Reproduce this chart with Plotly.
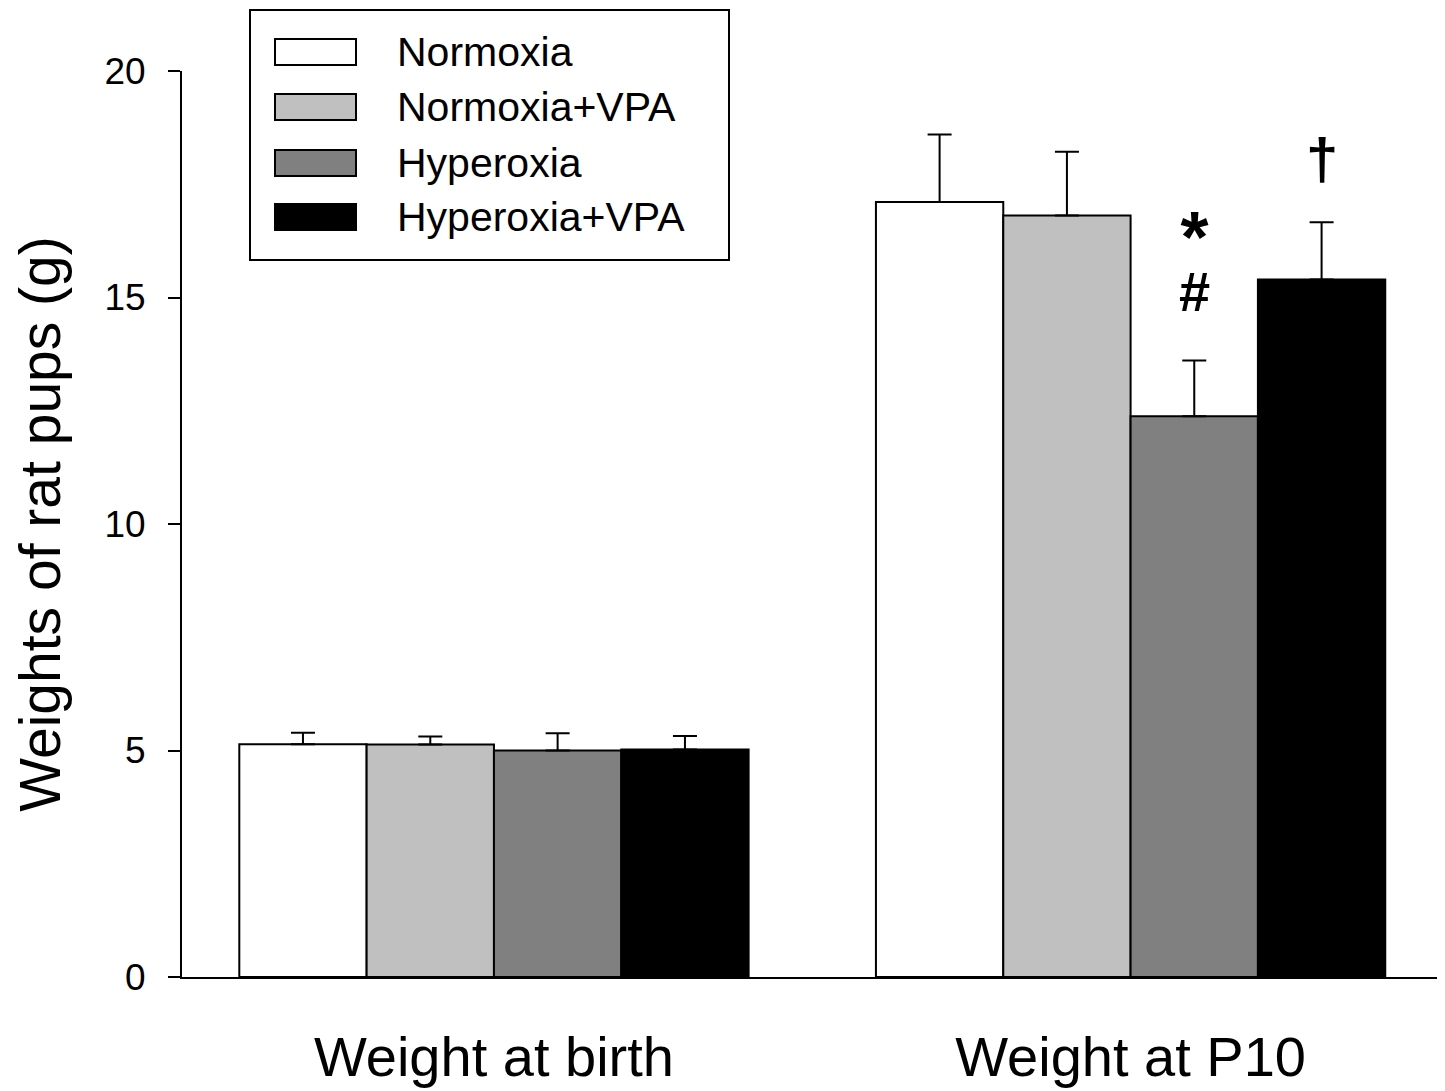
import plotly.graph_objects as go

categories = ["Weight at birth", "Weight at P10"]
series_names = ["Normoxia", "Normoxia+VPA", "Hyperoxia", "Hyperoxia+VPA"]
series_colors = ["#ffffff", "#c0c0c0", "#808080", "#000000"]
means = {
    "Normoxia": [5.14, 17.11],
    "Normoxia+VPA": [5.13, 16.81],
    "Hyperoxia": [5.00, 12.38],
    "Hyperoxia+VPA": [5.02, 15.40],
}
errors = {
    "Normoxia": [0.25, 1.49],
    "Normoxia+VPA": [0.18, 1.41],
    "Hyperoxia": [0.38, 1.23],
    "Hyperoxia+VPA": [0.30, 1.26],
}
y_ticks = [0, 5, 10, 15, 20]
# significance marks: (category index, bar offset, y value, text)
sig_marks = [
    (1, 0.1, 15.82, "<span style='font-size:72px'><b>*</b></span><br><span style='font-size:56px'><b>#</b></span>"),
    (1, 0.3, 18.07, "<span style='font-size:58px'><b>†</b></span>"),
]

# page has an 8px body margin; compensate so the plot lands where the reference has it
OFF = 8
W, H = 1445 - OFF, 1091 - OFF
L, R, T, B = 182 - OFF, 5, 71 - OFF, 114
pw, ph = W - L - R, H - T - B

def px(x):
    return (x - OFF - L) / pw

def py(y):
    return (H - B - (y - OFF)) / ph

FONT = "Liberation Sans, Arial, sans-serif"

fig = go.Figure()
for name, col in zip(series_names, series_colors):
    fig.add_trace(go.Bar(
        x=categories, y=means[name], name=name,
        marker=dict(color=col, line=dict(color="black", width=2)),
        error_y=dict(type="data", array=errors[name], arrayminus=[0] * len(categories),
                     symmetric=False, color="black", thickness=2, width=12),
        showlegend=False,
    ))

annotations = []
for ci, off, yv, txt in sig_marks:
    annotations.append(dict(x=ci + off, y=yv, xref="x", yref="y", text=txt,
                            showarrow=False, font=dict(family=FONT, size=38, color="black")))

# custom legend box
shapes = [dict(type="rect", xref="paper", yref="paper", x0=px(250), x1=px(729), y0=py(260), y1=py(10),
               line=dict(color="black", width=2), fillcolor="white", layer="above")]
row_y = [52, 107, 163, 217]
for name, col, ry in zip(series_names, series_colors, row_y):
    shapes.append(dict(type="rect", xref="paper", yref="paper", x0=px(275), x1=px(356),
                       y0=py(ry + 13), y1=py(ry - 13), line=dict(color="black", width=2),
                       fillcolor=col, layer="above"))
    annotations.append(dict(x=px(395), y=py(ry), xref="paper", yref="paper", text=name,
                            showarrow=False, xanchor="left", yanchor="middle",
                            font=dict(family=FONT, size=41, color="black")))

fig.update_layout(
    width=W, height=H,
    margin=dict(l=L, r=R, t=T, b=B, pad=0, autoexpand=False),
    paper_bgcolor="white", plot_bgcolor="white",
    barmode="group", bargap=0.2, bargroupgap=0,
    font=dict(family=FONT, color="black"),
    shapes=shapes, annotations=annotations,
    xaxis=dict(range=[-0.49, 1.486], showline=True, linecolor="black", linewidth=2,
               ticks="", showgrid=False, zeroline=False, automargin=False,
               tickfont=dict(family=FONT, size=56, color="black"), ticklabelstandoff=30),
    yaxis=dict(range=[0, 20], tickvals=y_ticks, showline=True, linecolor="black", linewidth=2,
               ticks="outside", ticklen=12, tickwidth=2, tickcolor="black",
               showgrid=False, zeroline=False, automargin=False,
               tickfont=dict(family=FONT, size=37, color="black"), ticklabelstandoff=15,
               title=dict(text="Weights of rat pups (g)", font=dict(family=FONT, size=57, color="black"),
                          standoff=31)),
)

fig.write_html("out.html")
